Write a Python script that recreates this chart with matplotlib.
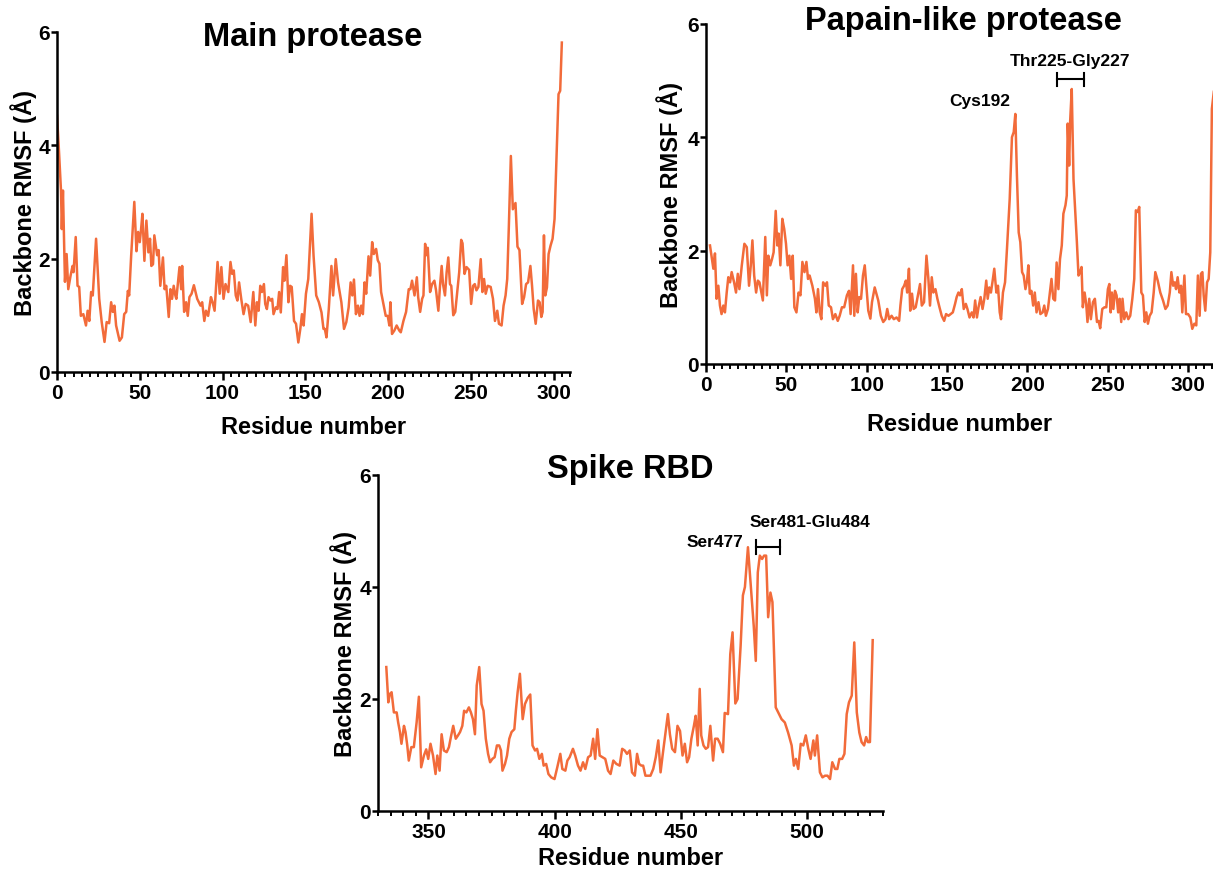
#!/usr/bin/env python3
"""Backbone RMSF per residue for Mpro, PLpro and the spike RBD."""
import matplotlib
matplotlib.use('Agg')
import matplotlib.pyplot as plt
from matplotlib.ticker import MultipleLocator

plt.rcParams['font.family'] = ['Liberation Sans', 'DejaVu Sans']
plt.rcParams['font.weight'] = 'bold'

LINE_COLOR = '#F26B3A'

# ── Main protease ────────────────────────────────────────────────────
mpro_res = [0, 1, 2.4, 2.9, 3.6, 4.1, 4.8, 5.8, 6.8, 8.2, 9.4, 10, 11.3, 12.4, 13.4, 14.4, 15.9, 17.5, 18.5, 19.5,
            20.6, 21.6, 23.6, 25.5, 27, 28.7, 30, 31.5, 32.7, 33.7, 34.7, 35.7, 37.8, 39.2, 40.6, 41.8, 42.8, 43.6,
            44.8, 46.7, 48, 49, 50, 50.8, 51.6, 52.8, 54, 55.2, 56.2, 57, 58, 58.8, 60.5, 61.4, 62.4, 64, 65, 66,
            67.5, 68.5, 69.5, 70.5, 71.5, 72.1, 74, 75, 75.6, 76.8, 78, 79, 80, 81.3, 82.7, 84.7, 86.7, 87.7, 89,
            90, 91.3, 93, 94, 95.2, 97, 98.3, 99.3, 100.6, 101.8, 103.5, 104.8, 105.8, 106.8, 108, 109, 110, 111.3,
            112.7, 114, 115.5, 117, 118.6, 119.8, 120.8, 121.8, 122.8, 123.8, 125, 125.8, 126.8, 127.8, 129, 130,
            130.8, 132.2, 133.2, 134.2, 135.2, 136.6, 137.4, 138.6, 139.8, 140.8, 141.8, 143.2, 144.4, 145.8, 147,
            148, 149, 150.4, 151.8, 153.8, 155, 156.6, 158.2, 159.8, 161, 161.8, 162.8, 164.2, 165.8, 166.8, 168.4,
            169.8, 171.8, 173.4, 174.8, 176.2, 177.4, 178.4, 179.4, 180.6, 181.8, 182.8, 183.8, 184.8, 185.8,
            186.8, 188.2, 189.2, 190.4, 191.4, 192.8, 193.8, 194.8, 195.8, 197.4, 198.6, 199.8, 200.8, 201.4,
            202.4, 203.8, 205.2, 206.8, 207.7, 209.3, 210.9, 212.5, 213.5, 214.5, 216, 217.4, 218.2, 219.4, 220.6,
            221.4, 222.4, 223.2, 224, 225.4, 226.6, 228, 229, 230.4, 231.4, 232.4, 233.2, 234.4, 235.4, 236.4,
            237.4, 238.2, 239.4, 240.6, 242, 243, 244.2, 245, 246.2, 247.4, 249, 250.2, 251.4, 252.4, 253.4, 254.6,
            256, 257, 258, 259, 260.2, 262, 263.4, 264.6, 266, 267, 268.6, 269.8, 271, 272, 273, 274.2, 275.4, 277,
            278.2, 279.4, 281, 282.2, 283.4, 284.6, 286, 287, 288, 289.2, 290.6, 291.6, 292.6, 293.4, 294.2, 295,
            296, 297, 298.2, 299.4, 300.6, 303, 304, 305]
mpro_rmsf = [4.52, 4.0, 3.2, 2.52, 3.2, 2.52, 1.59, 2.08, 1.46, 1.7, 1.87, 1.76, 2.38, 1.52, 1.5, 0.99, 1.02, 0.82,
             1.08, 0.9, 1.41, 1.35, 2.35, 1.29, 0.88, 0.53, 0.88, 0.86, 1.23, 1.06, 1.17, 0.82, 0.55, 0.61, 1.02,
             1.06, 1.43, 1.35, 2.05, 3.0, 2.13, 2.47, 2.29, 2.52, 2.79, 1.96, 2.67, 2.11, 2.35, 1.87, 1.9, 2.41,
             2.06, 2.15, 1.52, 2.02, 1.46, 1.52, 0.97, 1.46, 1.29, 1.52, 1.35, 1.29, 1.85, 1.46, 1.87, 1.06, 1.23,
             0.99, 1.32, 1.38, 1.53, 1.29, 1.17, 1.23, 0.9, 1.08, 0.99, 1.32, 1.23, 1.08, 1.94, 1.38, 1.85, 1.29,
             1.55, 1.41, 1.94, 1.73, 1.79, 1.35, 1.26, 1.58, 1.29, 1.02, 1.2, 1.17, 0.88, 1.41, 0.82, 1.23, 1.08,
             1.52, 1.41, 1.55, 1.2, 1.11, 1.32, 1.26, 1.29, 1.02, 1.14, 1.11, 1.41, 1.05, 1.85, 1.61, 2.06, 1.23,
             1.52, 1.5, 0.9, 0.85, 0.52, 0.76, 1.02, 0.82, 1.38, 1.64, 2.79, 2.05, 1.35, 1.23, 1.05, 0.76, 0.76,
             0.61, 1.11, 1.87, 1.35, 1.99, 1.58, 1.23, 0.76, 0.88, 1.14, 1.58, 1.35, 1.63, 1.02, 1.17, 0.99, 1.17,
             1.02, 1.58, 1.38, 2.04, 1.7, 2.29, 2.08, 2.17, 1.97, 1.91, 1.41, 1.17, 0.99, 0.99, 0.82, 1.23, 0.67,
             0.73, 0.82, 0.73, 0.7, 0.9, 1.06, 1.46, 1.46, 1.61, 1.35, 1.67, 1.32, 1.06, 1.29, 1.35, 2.26, 2.06,
             2.19, 1.41, 1.55, 1.61, 1.44, 1.08, 1.52, 1.87, 1.55, 1.35, 1.76, 2.02, 1.55, 1.52, 1.0, 1.06, 1.46,
             1.76, 2.33, 2.27, 1.73, 1.85, 1.8, 1.2, 1.52, 1.55, 1.44, 1.5, 1.99, 1.41, 1.64, 1.38, 1.52, 1.5, 1.29,
             0.9, 1.08, 0.85, 0.82, 1.17, 1.35, 1.64, 2.58, 3.81, 2.87, 2.98, 2.21, 2.15, 1.2, 1.32, 1.55, 1.58,
             1.87, 1.52, 1.11, 0.85, 1.26, 1.23, 0.97, 1.06, 2.41, 1.35, 1.49, 2.08, 2.23, 2.35, 2.7, 4.9, 4.96,
             5.81]

# ── Papain-like protease ─────────────────────────────────────────────
plpro_res = [2.5, 4.6, 5.6, 6.6, 7.7, 8.7, 9.7, 10.8, 11.8, 12.9, 13.9, 15, 16, 17.5, 18.7, 19.8, 20.8, 22.3, 23.9,
             25.4, 26.8, 27.9, 28.9, 30, 31.2, 32.3, 33.3, 34.6, 35.4, 36.9, 37.9, 38.8, 40, 41.1, 42.1, 43.4, 44.4,
             45.2, 46.3, 47.5, 48.7, 49.8, 50.8, 51.9, 53, 54, 55, 56.3, 57.6, 58.8, 60, 61.3, 62.5, 63.5, 64.5,
             66.2, 67.8, 68.7, 69.7, 70.8, 71.8, 72.9, 74.3, 75.3, 76.4, 77.8, 79, 80.5, 82, 83.2, 84.6, 86, 87.7,
             89, 90, 91.5, 92.3, 93.3, 94.4, 95.4, 96.5, 97.7, 98.8, 99.6, 101, 102.3, 103.3, 105, 107.2, 108.8,
             110.3, 111.7, 112.8, 114, 115.5, 116.9, 118.6, 120.2, 121, 122.1, 123.3, 124.4, 125.2, 126.3, 127.1,
             128.2, 129.2, 130.5, 131.5, 133.2, 134.3, 135.7, 137.2, 138.4, 139.4, 140.5, 141.5, 142.8, 144, 145.3,
             146.7, 148.2, 149.4, 150.9, 152.3, 153.6, 155, 156, 157.1, 158.1, 159.2, 160.4, 161.7, 162.7, 164,
             165.4, 166.5, 167.5, 168.6, 169.6, 170.9, 172.1, 173.2, 174.4, 175.3, 176.3, 177.3, 178.4, 179.4,
             180.7, 181.7, 182.8, 183.6, 184.8, 186.1, 187.3, 189, 190.4, 191.5, 192.5, 193.5, 194.6, 195.6, 196.7,
             197.7, 198.8, 199.8, 200.6, 201.5, 202.5, 203.6, 204.6, 205.7, 206.9, 208.1, 209.5, 210.5, 211.5,
             212.8, 214, 215, 216.1, 217.2, 218.2, 219.3, 220.3, 221.4, 222.4, 223.7, 224.5, 225.1, 226, 226.6,
             227.6, 228.7, 229.7, 230.8, 231.8, 232.8, 233.7, 234.5, 235.6, 236.6, 237.4, 238.5, 239.5, 240.8, 242,
             243.3, 244.3, 245.3, 246.6, 248, 249.1, 250.1, 251, 251.8, 252.6, 253.5, 254.5, 255.5, 256.5, 257.4,
             258.4, 259.2, 260.3, 261.5, 262.8, 264, 265.3, 266.5, 267.5, 268.6, 269.6, 270.9, 271.9, 273, 274, 275,
             276.1, 277.3, 278.6, 279.6, 281.1, 282.7, 284.4, 285.9, 287.3, 288.6, 289.6, 290.7, 291.7, 292.5,
             293.5, 294.6, 295.6, 296.4, 297.7, 298.7, 300, 301.4, 302.6, 303.9, 305.1, 306.1, 307.2, 308, 308.9,
             309.7, 310.7, 311.8, 312.8, 313.8, 314.8, 316]
plpro_rmsf = [2.09, 1.68, 1.95, 1.15, 1.38, 1.03, 0.88, 1.03, 0.91, 1.26, 1.53, 1.44, 1.62, 1.44, 1.26, 1.59, 1.32,
              1.74, 2.12, 2.06, 1.38, 1.74, 2.18, 1.56, 1.26, 1.47, 1.44, 1.24, 1.12, 2.24, 1.21, 1.91, 1.74, 1.85,
              1.97, 2.7, 2.09, 2.3, 1.74, 2.56, 2.38, 2.12, 1.74, 1.91, 1.5, 1.91, 1.0, 0.91, 1.26, 1.21, 1.8, 1.62,
              1.8, 1.5, 1.56, 1.38, 1.15, 0.91, 1.32, 0.91, 0.79, 1.44, 1.38, 1.44, 1.03, 1.0, 0.79, 0.88, 0.76,
              0.85, 1.0, 1.0, 1.21, 1.29, 0.88, 1.74, 0.85, 1.59, 0.91, 1.18, 1.15, 1.56, 1.74, 1.44, 0.94, 0.8,
              1.09, 1.35, 1.12, 0.85, 0.74, 0.79, 0.97, 0.79, 0.85, 0.79, 0.82, 0.76, 1.03, 1.32, 1.38, 1.47, 1.26,
              1.68, 0.94, 1.24, 0.97, 1.0, 1.15, 1.41, 1.03, 1.09, 1.91, 1.5, 1.03, 1.53, 1.26, 1.32, 1.15, 1.0,
              0.85, 0.76, 0.88, 0.85, 0.88, 0.91, 1.06, 1.18, 1.26, 1.21, 1.32, 0.97, 1.06, 0.97, 0.82, 0.91, 0.82,
              1.12, 0.82, 1.0, 1.18, 0.97, 1.15, 1.47, 1.15, 1.35, 1.26, 1.47, 1.68, 1.26, 1.38, 0.91, 0.79, 1.26,
              1.44, 2.03, 2.91, 4.0, 4.09, 4.41, 3.32, 2.32, 2.15, 1.62, 1.56, 1.32, 1.47, 1.74, 1.24, 1.29, 1.03,
              1.26, 0.91, 1.09, 0.88, 0.91, 1.03, 0.85, 0.97, 1.26, 1.5, 1.15, 1.12, 1.79, 1.32, 1.85, 2.09, 2.65,
              2.8, 2.97, 4.24, 3.5, 4.27, 4.85, 3.26, 2.74, 2.15, 1.56, 1.62, 1.71, 1.0, 1.26, 1.06, 0.74, 1.15,
              0.79, 1.09, 1.15, 0.74, 0.76, 0.63, 0.97, 1.0, 1.0, 1.32, 1.41, 0.91, 1.26, 0.97, 1.29, 1.21, 0.91,
              1.15, 0.74, 1.15, 0.79, 0.91, 0.79, 0.85, 1.15, 1.5, 2.71, 2.68, 2.77, 1.26, 1.21, 0.74, 0.91, 0.71,
              0.85, 0.91, 1.26, 1.62, 1.47, 1.26, 1.12, 0.97, 1.03, 1.26, 1.62, 1.38, 1.44, 1.32, 1.53, 1.26, 1.38,
              0.91, 1.56, 0.88, 0.88, 0.82, 0.62, 0.71, 0.68, 1.56, 0.85, 1.59, 1.62, 1.21, 0.94, 1.44, 1.5, 1.97,
              4.5, 4.8]

# ── Spike RBD ────────────────────────────────────────────────────────
rbd_res = [333.3, 334.1, 334.7, 335.4, 336.3, 337.4, 338, 338.7, 339.3, 340.3, 340.9, 341.6, 342.2, 343.2, 344.2,
           345.3, 346.2, 347.1, 348.2, 349.1, 349.9, 350.8, 351.8, 352.8, 353.5, 354.4, 355.2, 356.1, 357.2, 358.1,
           359, 359.8, 360.8, 361.7, 362.5, 363.4, 364.1, 365, 366, 366.8, 367.6, 368.4, 369.1, 370.1, 371, 371.8,
           372.7, 373.6, 374.4, 375.3, 376.2, 377.1, 378, 378.7, 379.3, 380.3, 381.1, 382, 382.9, 384, 384.6,
           385.3, 386.2, 387.3, 388.2, 389.3, 390.3, 391.2, 392.2, 393, 393.9, 394.9, 395.6, 396.6, 397.5, 398.6,
           399.9, 401, 402.2, 403, 404.2, 405, 405.9, 407.2, 408.1, 409.2, 410.2, 411.2, 412.1, 413.2, 414.2,
           415.2, 416, 416.9, 417.8, 418.9, 420, 421.1, 422.1, 423.2, 424.4, 425.7, 426.7, 427.7, 428.6, 429.7,
           430.6, 431.7, 432.6, 433.4, 434.3, 435, 435.9, 437, 437.9, 439, 440, 441, 441.9, 442.7, 443.8, 444.8,
           445.6, 446.5, 447.6, 448.6, 449.6, 450.6, 451.5, 452.4, 453.2, 454.1, 455.1, 455.8, 456.6, 457.4, 458,
           458.9, 459.8, 460.7, 461.6, 462.7, 463.5, 464.5, 465.5, 466.6, 467.3, 468.6, 469.5, 470.4, 471.5, 472.4,
           473.6, 474.5, 475.3, 476.5, 477.8, 478.8, 479.6, 480.4, 481.2, 482.1, 482.9, 483.7, 484.5, 485.4, 486.2,
           487.5, 488.5, 489.8, 491.1, 492.4, 493.8, 494.7, 495.5, 496.4, 497.4, 498.4, 499.4, 500.4, 501.3, 502.4,
           503, 503.9, 505, 506, 507, 508, 509, 509.9, 511, 511.9, 512.7, 513.8, 514.7, 515.6, 516.5, 517.6, 518.6,
           519.6, 520.6, 521.5, 522.5, 523.3, 524, 524.8, 525.9]
rbd_rmsf = [2.57, 1.94, 2.09, 2.12, 1.76, 1.76, 1.58, 1.41, 1.2, 1.52, 1.41, 1.17, 0.9, 1.14, 1.14, 1.58, 2.04, 0.78,
            0.99, 1.1, 0.93, 1.2, 0.99, 0.66, 0.99, 0.72, 1.37, 1.08, 1.05, 1.14, 1.35, 1.52, 1.29, 1.35, 1.41, 1.52,
            1.79, 1.76, 1.85, 1.76, 1.64, 1.37, 2.24, 2.57, 1.91, 1.79, 1.29, 1.02, 0.87, 0.93, 0.96, 1.17, 1.17,
            1.08, 0.72, 0.84, 0.99, 1.29, 1.41, 1.46, 1.79, 2.12, 2.45, 1.64, 1.91, 2.02, 2.08, 1.17, 1.08, 1.11,
            0.93, 1.02, 0.81, 0.84, 0.66, 0.6, 0.57, 0.78, 1.02, 0.75, 0.72, 0.9, 0.96, 1.11, 0.99, 0.81, 0.72, 0.87,
            0.75, 0.96, 0.99, 1.29, 0.93, 1.46, 0.99, 0.96, 0.93, 0.72, 0.66, 0.9, 0.84, 0.81, 1.11, 1.08, 1.02,
            1.08, 0.69, 0.63, 1.02, 0.84, 0.81, 0.81, 0.63, 0.63, 0.63, 0.75, 0.96, 1.26, 0.69, 0.99, 1.37, 1.73,
            1.37, 1.11, 1.05, 1.52, 1.43, 0.99, 1.2, 0.87, 0.96, 1.29, 1.52, 1.7, 1.17, 2.18, 1.35, 1.17, 1.11, 1.14,
            1.52, 0.9, 1.29, 1.29, 1.2, 1.05, 1.75, 1.73, 2.8, 3.19, 1.92, 2.0, 2.95, 3.85, 4.0, 4.71, 3.9, 3.3,
            2.68, 4.26, 4.56, 4.5, 4.56, 4.56, 3.46, 3.9, 3.73, 1.85, 1.76, 1.64, 1.58, 1.4, 1.17, 0.81, 0.93, 0.75,
            1.2, 1.17, 1.35, 1.11, 0.93, 1.26, 0.99, 1.35, 0.69, 0.6, 0.63, 0.63, 0.57, 0.87, 0.75, 0.75, 0.93, 0.93,
            1.02, 1.73, 1.94, 2.06, 3.01, 1.76, 1.4, 1.23, 1.17, 1.32, 1.23, 1.23, 3.05]

# annotations: (text, x, y) and brackets: (x_start, x_end, y)
plpro_labels = [("Cys192", 170.5, 4.64), ("Thr225-Gly227", 226.5, 5.35)]
plpro_bracket = (218.4, 235.3, 5.02)
rbd_labels = [("Ser477", 463.6, 4.81), ("Ser481-Glu484", 501.2, 5.17)]
rbd_bracket = (479.7, 489.3, 4.71)


def style_axis(ax, xlim, title, title_xy, xlabel_y, ylabel_x):
    ax.set_xlim(*xlim)
    ax.set_ylim(0, 6)
    ax.xaxis.set_major_locator(MultipleLocator(50))
    ax.xaxis.set_minor_locator(MultipleLocator(5))
    ax.yaxis.set_major_locator(MultipleLocator(2))
    for side in ('top', 'right'):
        ax.spines[side].set_visible(False)
    for side in ('left', 'bottom'):
        ax.spines[side].set_linewidth(1.8)
    ax.tick_params(which='major', direction='out', width=1.8, labelsize=15)
    ax.tick_params(axis='x', which='major', length=6, pad=2)
    ax.tick_params(axis='y', which='major', length=4, pad=1)
    ax.tick_params(which='minor', direction='out', length=3.5, width=1.4)
    for lbl in ax.get_xticklabels() + ax.get_yticklabels():
        lbl.set_fontweight('bold')
    ax.set_xlabel('Residue number', fontsize=17, fontweight='bold', va='center')
    ax.set_ylabel('Backbone RMSF (Å)', fontsize=17, fontweight='bold', va='center')
    ax.xaxis.set_label_coords(0.5, xlabel_y)
    ax.yaxis.set_label_coords(ylabel_x, 0.5)
    ax.text(title_xy[0], title_xy[1], title, transform=ax.transAxes, ha='center', va='center',
            fontsize=23.5, fontweight='bold')


def draw_bracket(ax, span):
    x0, x1, y = span
    ax.plot([x0, x1], [y, y], color='black', lw=1.5, clip_on=False)
    for x in (x0, x1):
        ax.plot([x, x], [y - 0.12, y + 0.12], color='black', lw=1.5, clip_on=False)


fig = plt.figure(figsize=(12.13, 8.70), dpi=100)

ax1 = fig.add_axes([0.047, 0.5713, 0.423, 0.391])
ax1.plot(mpro_res, mpro_rmsf, color=LINE_COLOR, lw=1.8)
style_axis(ax1, (0, 310), 'Main protease', (0.499, 0.985), -0.159, -0.066)

ax2 = fig.add_axes([0.582, 0.5805, 0.418, 0.391])
ax2.plot(plpro_res, plpro_rmsf, color=LINE_COLOR, lw=1.8)
style_axis(ax2, (0, 315.5), 'Papain-like protease', (0.508, 1.009), -0.176, -0.072)
for txt, x, y in plpro_labels:
    ax2.text(x, y, txt, ha='center', va='center', fontsize=12.5, fontweight='bold')
draw_bracket(ax2, plpro_bracket)

ax3 = fig.add_axes([0.3116, 0.0667, 0.4164, 0.3862])
ax3.plot(rbd_res, rbd_rmsf, color=LINE_COLOR, lw=1.8)
style_axis(ax3, (330, 530), 'Spike RBD', (0.499, 1.018), -0.137, -0.069)
for txt, x, y in rbd_labels:
    ax3.text(x, y, txt, ha='center', va='center', fontsize=12.5, fontweight='bold')
draw_bracket(ax3, rbd_bracket)

plt.savefig('out.png', dpi=100)
plt.close()
print("Saved out.png")
